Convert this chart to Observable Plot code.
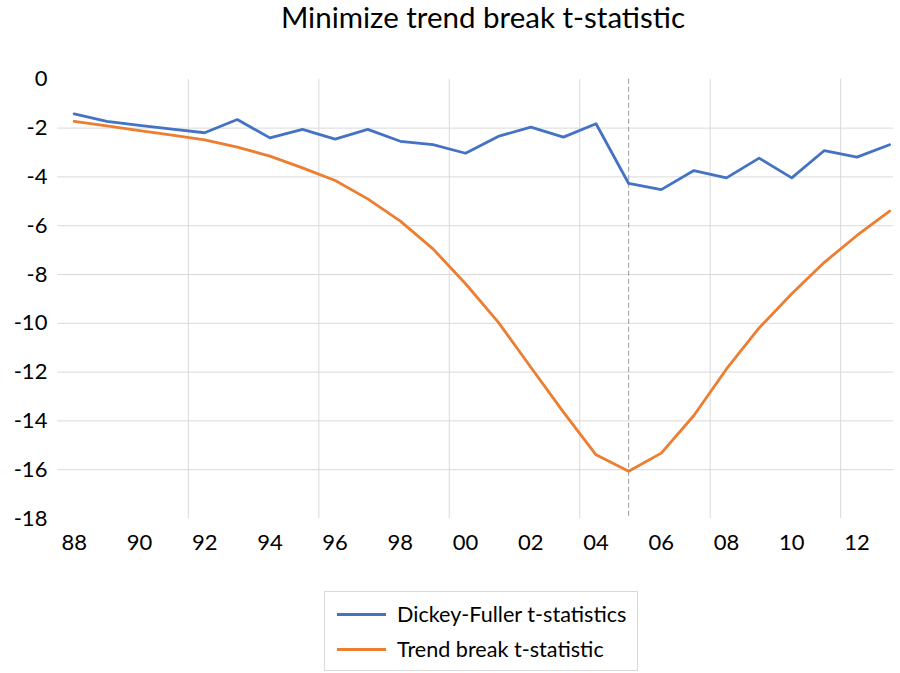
<!DOCTYPE html>
<html><head><meta charset="utf-8">
<script src="https://cdn.jsdelivr.net/npm/d3@7"></script>
<script src="https://cdn.jsdelivr.net/npm/@observablehq/plot@0.6"></script>
<style>
body{margin:0;background:#fff;font-family:Lato,sans-serif;color:#000;}
#wrap{position:relative;width:900px;height:673px;overflow:hidden;}
#title{position:absolute;left:0;top:0;width:966px;text-align:center;font-size:29.5px;line-height:34px;}
#chart{position:absolute;left:0;top:50px;}
#legend{position:absolute;left:324px;top:591px;width:312px;height:78px;border:1px solid #d9d9d9;}
.row{position:absolute;left:0;height:24px;display:flex;align-items:center;font-size:21.6px;white-space:nowrap;}
.sw{display:inline-block;width:49px;height:3px;margin-left:12px;margin-right:11px;}
</style></head>
<body><div id="wrap">
<div id="title">Minimize trend break t-statistic</div>
<div id="chart"></div>
<div id="legend">
  <div class="row" style="top:10px"><span class="sw" style="background:#4472C4"></span>Dickey-Fuller t-statistics</div>
  <div class="row" style="top:45px"><span class="sw" style="background:#ED7D31"></span>Trend break t-statistic</div>
</div>
</div>
<script>
const years = [1988,1989,1990,1991,1992,1993,1994,1995,1996,1997,1998,1999,2000,2001,2002,2003,2004,2005,2006,2007,2008,2009,2010,2011,2012,2013];
const dickeyFuller = [-1.42,-1.72,-1.89,-2.04,-2.19,-1.65,-2.40,-2.05,-2.45,-2.05,-2.54,-2.68,-3.03,-2.34,-1.96,-2.37,-1.82,-4.27,-4.52,-3.74,-4.04,-3.23,-4.04,-2.92,-3.19,-2.68];
const trendBreak = [-1.72,-1.91,-2.10,-2.29,-2.48,-2.78,-3.15,-3.63,-4.15,-4.90,-5.81,-6.95,-8.38,-9.95,-11.80,-13.64,-15.39,-16.06,-15.32,-13.78,-11.87,-10.19,-8.79,-7.50,-6.40,-5.40];
const xTicks = [1988,1990,1992,1994,1996,1998,2000,2002,2004,2006,2008,2010,2012];
const yTicks = [0,-2,-4,-6,-8,-10,-12,-14,-16,-18];
const yGrid = [-2,-4,-6,-8,-10,-12,-14,-16];
const xGrid = [1991.5,1995.5,1999.5,2003.5,2007.5,2011.5];
const breakYear = [2005];

const dfData = years.map((y,i)=>({year:y, value:dickeyFuller[i]}));
const tbData = years.map((y,i)=>({year:y, value:trendBreak[i]}));

const chart = Plot.plot({
  width: 900, height: 510,
  marginLeft: 57.4, marginRight: 7, marginTop: 28.8, marginBottom: 42,
  style: {fontFamily: "Lato, sans-serif", fontSize: "22px", color: "#000", background: "transparent"},
  x: {domain: [1987.5, 2013.12], axis: null},
  y: {domain: [-18, 0], axis: null},
  marks: [
    Plot.ruleY(yGrid, {stroke: "#d9d9d9", strokeWidth: 1}),
    Plot.ruleX(xGrid, {stroke: "#d9d9d9", strokeWidth: 1}),
    Plot.ruleX(breakYear, {stroke: "#9a9a9a", strokeWidth: 1, strokeDasharray: "5,3"}),
    Plot.line(dfData, {x: "year", y: "value", stroke: "#4472C4", strokeWidth: 2.8}),
    Plot.line(tbData, {x: "year", y: "value", stroke: "#ED7D31", strokeWidth: 2.8}),
    Plot.axisY(yTicks, {anchor: "left", label: null, tickSize: 0, tickPadding: 10.5, fontSize: 22, tickFormat: d => String(d), fill: "#000"}),
    Plot.axisX(xTicks, {anchor: "bottom", label: null, tickSize: 0, tickPadding: 16, fontSize: 22, tickFormat: d => String(d % 100).padStart(2, "0"), fill: "#000"})
  ]
});
document.getElementById("chart").appendChild(chart);
</script>
</body></html>
